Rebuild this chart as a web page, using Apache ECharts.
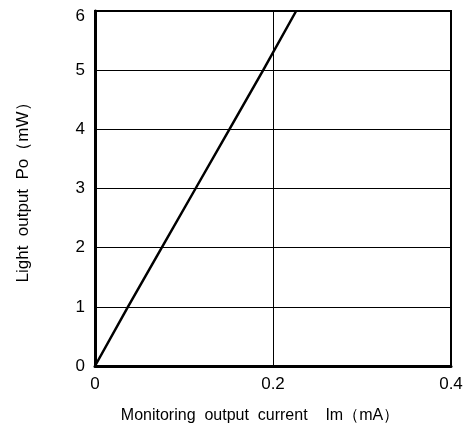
<!DOCTYPE html>
<html><head><meta charset="utf-8">
<script src="https://cdn.jsdelivr.net/npm/echarts@6/dist/echarts.min.js"></script>
<style>html,body{margin:0;padding:0;background:#fff}#c{width:473px;height:437px}</style>
</head><body><div id="c"></div>
<script>
const currentMA = [0, 0.037, 0.075, 0.113, 0.151, 0.189, 0.226];
const lightMW = [0, 1, 2, 3, 4, 5, 6];
const xTicks = [0, 0.2, 0.4];
const yTicks = [0, 1, 2, 3, 4, 5, 6];
const chart = echarts.init(document.getElementById('c'));
const font = "'Liberation Sans', Arial, sans-serif";
chart.setOption({
  animation: false,
  grid: {left: 95, right: 22, top: 11, bottom: 71, show: true, borderColor: '#000', borderWidth: 2, backgroundColor: 'transparent'},
  xAxis: {
    type: 'value', min: xTicks[0], max: xTicks[xTicks.length-1], interval: 0.2,
    name: 'Monitoring  output  current    Im（mA）', nameLocation: 'middle', nameGap: 42,
    nameTextStyle: {fontFamily: font, fontSize: 16, color: '#000', padding: [0, 26, 0, 0]},
    axisLine: {lineStyle: {color: '#000', width: 3}},
    axisTick: {show: false},
    axisLabel: {fontFamily: font, fontSize: 17, color: '#000', margin: 10, formatter: v => String(v)},
    splitLine: {show: true, lineStyle: {color: '#000', width: 1}}
  },
  yAxis: {
    type: 'value', min: yTicks[0], max: yTicks[yTicks.length-1], interval: 1,
    name: 'Light  output  Po（mW）', nameLocation: 'middle', nameGap: 63,
    nameTextStyle: {fontFamily: font, fontSize: 17, color: '#000'},
    axisLine: {lineStyle: {color: '#000', width: 3}},
    axisTick: {show: false},
    axisLabel: {
      fontFamily: font, fontSize: 17, color: '#000', margin: 10,
      formatter: v => v === yTicks[yTicks.length-1] ? '{t|' + v + '}' : String(v),
      rich: {t: {fontFamily: font, fontSize: 17, color: '#000', padding: [11, 0, 0, 0]}}
    },
    splitLine: {show: true, lineStyle: {color: '#000', width: 1}}
  },
  series: [{
    type: 'line', data: currentMA.map((x, i) => [x, lightMW[i]]),
    showSymbol: false, lineStyle: {color: '#000', width: 2.5}, clip: true
  }]
});
</script></body></html>
